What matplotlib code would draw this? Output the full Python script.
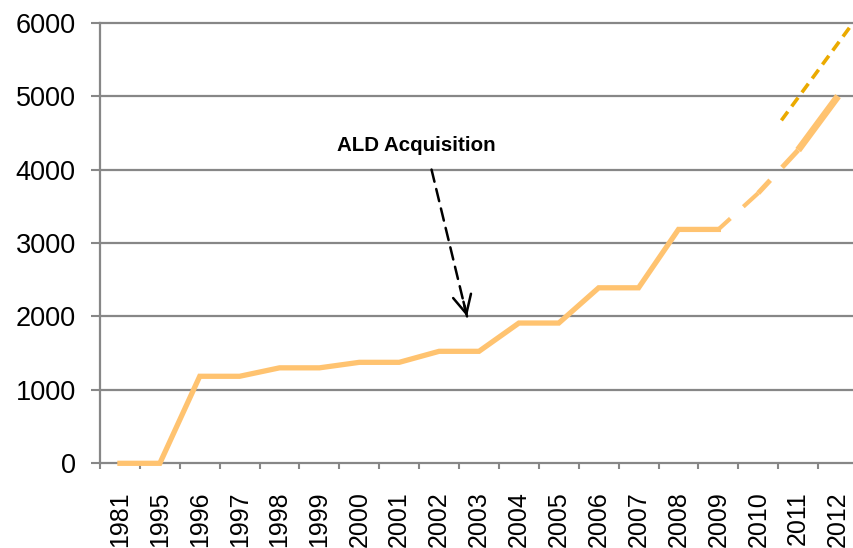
import matplotlib
matplotlib.use("Agg")
import matplotlib.pyplot as plt
import numpy as np

plt.rcParams['font.family'] = ['Liberation Sans', 'DejaVu Sans']

years = ['1981', '1995', '1996', '1997', '1998', '1999', '2000', '2001', '2002',
         '2003', '2004', '2005', '2006', '2007', '2008', '2009', '2010', '2011', '2012']
values = [0, 0, 1185, 1185, 1300, 1300, 1375, 1375, 1525, 1525,
          1910, 1910, 2390, 2390, 3185, 3185, 3680, 4265, 5000]
last_actual = '2009'
# projection line (category position, value)
proj_pos = [16.58, 18.5]
proj_vals = [4670, 6090]
yticks = [0, 1000, 2000, 3000, 4000, 5000, 6000]
annot_text = 'ALD Acquisition'
annot_target = (8.7, 2000)
annot_start = (7.81, 4000)
annot_label = (7.42, 4330)

W, H = 854, 548
fig = plt.figure(figsize=(W / 100, H / 100), dpi=100)
ax = fig.add_axes([100 / W, 1 - 463.3 / H, 758 / W, (463.3 - 22.7) / H])

x = np.arange(len(years))
orange = '#FFC370'
gold = '#EBAA00'
gray = '#878787'

k = years.index(last_actual)
ax.plot(x[:k + 1], values[:k + 1], color=orange, lw=3.8, solid_joinstyle='miter',
        clip_on=False, zorder=3)
# dashed forecast segments
ax.plot(x[k:k + 2], values[k:k + 2], color=orange, lw=3.0,
        linestyle=(0, (3.9, 4.2, 5, 10)), solid_capstyle='butt', zorder=3)
ax.plot(x[k + 1:k + 3], values[k + 1:k + 3], color=orange, lw=3.6,
        linestyle=(0, (3.5, 3.5, 5, 10)), zorder=3)
ax.plot(x[k + 2:k + 4], values[k + 2:k + 4], color=orange, lw=5.0,
        solid_capstyle='butt', zorder=3)

ax.plot(proj_pos, proj_vals, color=gold, lw=2.6, linestyle=(0, (3, 1.8)), zorder=3)

ax.set_xlim(-0.5, len(years) - 0.5)
ax.set_ylim(0, 6000)
ax.set_yticks(yticks)
ax.set_yticklabels([str(v) for v in yticks], fontsize=19.5)
ax.set_xticks(x)
ax.set_xticklabels(years, rotation=90, fontsize=18)
ax.set_xticks(np.arange(-0.5, len(years)), minor=True)

ax.tick_params(axis='x', which='major', length=0, pad=20)
ax.tick_params(axis='x', which='minor', length=4, width=1.5, color=gray)
ax.tick_params(axis='y', length=6.5, width=1.5, color=gray, pad=11)

for s in ['top', 'right']:
    ax.spines[s].set_visible(False)
for s in ['left', 'bottom']:
    ax.spines[s].set_color(gray)
    ax.spines[s].set_linewidth(1.6)

for v in yticks[1:]:
    ax.axhline(v, color=gray, lw=1.6, zorder=1, clip_on=False)

# annotation
ax.text(annot_label[0], annot_label[1], annot_text, fontsize=14.8, fontweight='bold',
        ha='center', va='center')
ax.annotate('', xy=annot_target, xytext=annot_start,
            arrowprops=dict(arrowstyle='-', color='black', lw=1.8,
                            linestyle=(0, (5, 3)), shrinkA=0, shrinkB=0))
back = (annot_target[0] - 0.1 * (annot_target[0] - annot_start[0]),
        annot_target[1] - 0.1 * (annot_target[1] - annot_start[1]))
ax.annotate('', xy=annot_target, xytext=back,
            arrowprops=dict(arrowstyle='->,head_length=1.1,head_width=0.55', color='black',
                            lw=1.8, shrinkA=0, shrinkB=0, mutation_scale=12))

fig.savefig('out.png', dpi=100)
